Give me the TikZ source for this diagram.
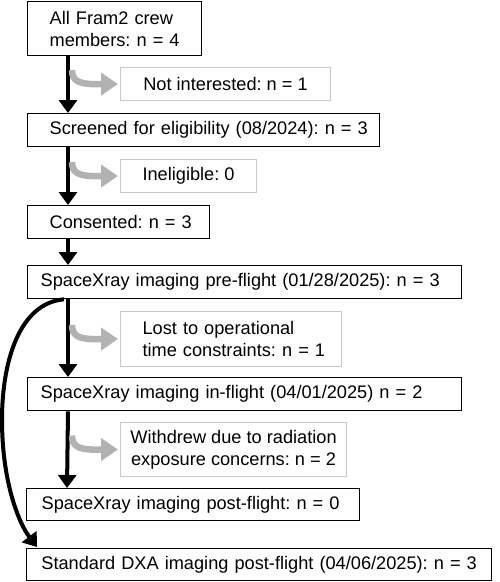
\documentclass[tikz,border=0pt]{standalone}
\usepackage{fontspec}
\setmainfont{Liberation Sans}
\frenchspacing
\usetikzlibrary{arrows.meta,calc}
\begin{document}
\begin{tikzpicture}[x=1pt,y=-1pt,
  box/.style={draw=black,line width=1.3pt,anchor=north west,inner xsep=0pt,inner ysep=0pt,font=\fontsize{18.2}{22}\selectfont,align=left},
  gbox/.style={draw=black!22,line width=1.1pt,anchor=north west,inner xsep=0pt,inner ysep=0pt,font=\fontsize{18.2}{22}\selectfont,align=center},
  flow/.style={line width=4pt,-{Triangle[width=18pt,length=13pt]}},
  side/.style={line width=6.5pt,draw=black!30,-{Triangle[width=22pt,length=17pt]}}]
\useasboundingbox (0,0) rectangle (500,582);
% main boxes
\node[box,minimum width=174pt,minimum height=54pt,text width=174pt] (b1) at (27,1) {\hspace*{22pt}All Fram2 crew\\\hspace*{22pt}members: n = 4};
\node[box,minimum width=352pt,minimum height=33pt,text width=352pt] (b2) at (27,113) {\hspace*{22pt}Screened for eligibility (08/2024): n = 3};
\node[box,minimum width=182pt,minimum height=33pt,text width=182pt] (b3) at (27,205) {\hspace*{22pt}Consented: n = 3};
\node[box,minimum width=434pt,minimum height=33pt,text width=434pt] (b4) at (27,265) {\hspace*{13pt}SpaceXray imaging pre-flight (01/28/2025): n = 3};
\node[box,minimum width=434pt,minimum height=33pt,text width=434pt] (b5) at (27,377) {\hspace*{13pt}SpaceXray imaging in-flight (04/01/2025) n = 2};
\node[box,minimum width=333pt,minimum height=32pt,text width=333pt] (b6) at (26,488) {\hspace*{15pt}SpaceXray imaging post-flight: n = 0};
\node[box,minimum width=465pt,minimum height=32pt,text width=465pt,align=center] (b7) at (26,548) {Standard DXA imaging post-flight (04/06/2025): n = 3};
% side boxes
\node[gbox,minimum width=210pt,minimum height=33pt] (s1) at (120,67) {Not interested: n = 1};
\node[gbox,minimum width=136pt,minimum height=33pt] (s2) at (120,159) {Ineligible: 0};
\node[gbox,minimum width=221pt,minimum height=55pt,text width=221pt,align=left] (s3) at (120,311) {\hspace*{22pt}Lost to operational\\\hspace*{22pt}time constraints: n = 1};
\node[gbox,minimum width=226pt,minimum height=54pt] (s4) at (120,422) {Withdrew due to radiation\\exposure concerns: n = 2};
% main flow
\foreach \a/\b in {b1/b2,b2/b3,b3/b4,b4/b5,b5/b6}{
  \draw[flow] ($(\a.south west)+(41,0)$) -- ($(\b.north west)+(41,0)$);
}
% side arrows
\foreach \s in {s1,s2,s3,s4}{
  \coordinate (c\s) at ($(\s.west)+(-48,-14)$);
  \draw[side] (c\s) .. controls ($(c\s)+(0,10)$) and ($(c\s)+(6,14)$) .. ($(c\s)+(22,14)$) -- ([xshift=-2pt]\s.west);
}
% curved bypass
\coordinate (k0) at ($(b4.south west)+(37,0)$);
\coordinate (k1) at (2,420);
\coordinate (k2) at ($(b7.north west)+(11,-1)$);
\draw[line width=4pt,-{Triangle[width=18pt,length=13pt]}] (k0) .. controls (20,303) and (2,360) .. (k1) .. controls (2,480) and (18,522) .. (k2);
\end{tikzpicture}
\end{document}
